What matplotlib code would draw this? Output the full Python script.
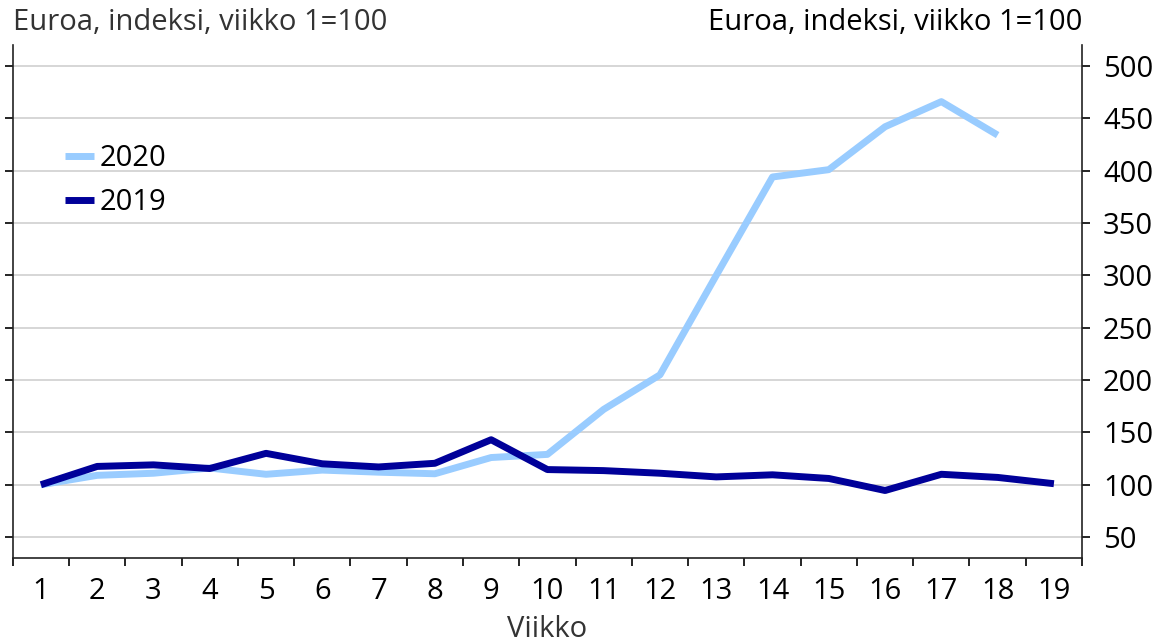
import numpy as np
import matplotlib.pyplot as plt
from matplotlib.ticker import FixedLocator, NullFormatter

plt.rcParams['font.family'] = ['Open Sans', 'DejaVu Sans']

# Viikot 1-19
weeks = np.arange(1, 20)
y2020 = [100, 109, 111, 116, 110, 114, 112, 110.5, 126, 129, 172, 205, 300, 394, 401, 442, 466, 434]
y2019 = [100, 117.5, 119, 115.5, 130, 120, 117, 120.5, 143, 114.5, 113.5, 111, 107.5, 109.5, 106, 94.5, 110, 107, 101]

light_blue = '#99ccff'
dark_blue = '#000099'
fs = 21

fig = plt.figure(figsize=(11.61, 6.44), dpi=100)
ax = fig.add_axes([0.011, 0.1335, 0.921, 0.7965])

ax.plot(weeks[:len(y2020)], y2020, color=light_blue, lw=5, label='2020', solid_capstyle='butt', zorder=3)
ax.plot(weeks, y2019, color=dark_blue, lw=5, label='2019', solid_capstyle='butt', zorder=3)

ax.set_xlim(0.5, 19.5)
ax.set_ylim(30, 520)

# y: ticks both sides, labels on right
ax.set_yticks(np.arange(50, 501, 50))
ax.tick_params(axis='y', left=True, right=True, labelleft=False, labelright=True,
               direction='out', length=6, width=1.2, labelsize=fs, pad=9)
ax.grid(axis='y', color='#cccccc', lw=1.1, zorder=0)

# x: ticks between weeks, labels at centres
ax.xaxis.set_major_locator(FixedLocator(np.arange(0.5, 20, 1)))
ax.xaxis.set_major_formatter(NullFormatter())
ax.xaxis.set_minor_locator(FixedLocator(weeks))
ax.set_xticklabels([str(w) for w in weeks], minor=True)
ax.tick_params(axis='x', which='major', direction='out', length=6, width=1.2)
ax.tick_params(axis='x', which='minor', length=0, labelsize=fs, pad=14)
ax.set_xlabel('Viikko', fontsize=fs, color='#333333', labelpad=6)

ax.spines['top'].set_visible(False)
for s in ['left', 'right', 'bottom']:
    ax.spines[s].set_linewidth(1.2)
    ax.spines[s].set_color('#222222')

fig.text(0.011, 0.965, 'Euroa, indeksi, viikko 1=100', fontsize=fs, color='#333333',
         ha='left', va='center')
fig.text(0.932, 0.965, 'Euroa, indeksi, viikko 1=100', fontsize=fs, color='black',
         ha='right', va='center')

ax.legend(loc='upper left', bbox_to_anchor=(0.035, 0.835), frameon=False, fontsize=fs,
          handlelength=1.0, handletextpad=0.2, labelspacing=0.5, borderpad=0)

fig.savefig('out.png', dpi=100)
